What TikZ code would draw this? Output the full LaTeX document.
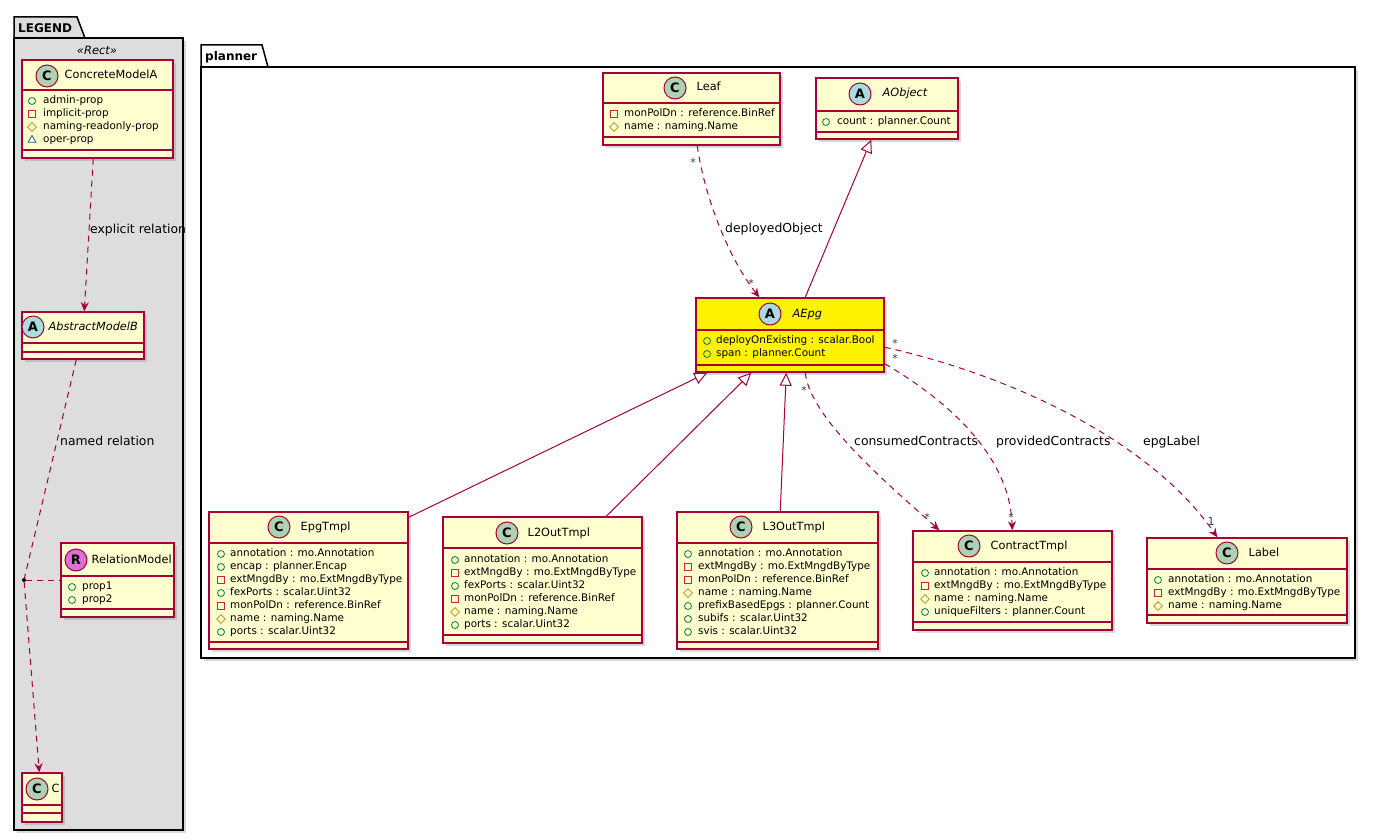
\documentclass[tikz,border=0pt]{standalone}
\usepackage{fontspec}
\setmainfont{DejaVu Sans}
\usepackage{tikz}
\usetikzlibrary{positioning,shapes.geometric,arrows.meta,fit,shadows}

\definecolor{umlred}{HTML}{A80036}
\definecolor{umlfill}{HTML}{FEFECE}
\definecolor{cgreen}{HTML}{ADD1B2}
\definecolor{ablue}{HTML}{A9DCDF}
\definecolor{rpink}{HTML}{DA70D6}
\definecolor{legendgray}{HTML}{DDDDDD}
\definecolor{pubgreen}{HTML}{038048}
\definecolor{prvred}{HTML}{C82930}
\definecolor{namgold}{HTML}{B38D22}
\definecolor{oprblue}{HTML}{1963A0}

\begin{document}
\begin{tikzpicture}[x=1pt,y=-1pt,
    cls/.style={draw=umlred,line width=1.5pt,fill=umlfill,inner sep=0pt,
        drop shadow={shadow xshift=3pt,shadow yshift=-3pt,opacity=0.3}},
    sepline/.style={draw=umlred,line width=1.5pt},
    circ/.style={circle,draw=umlred,line width=1pt,minimum size=22pt,inner sep=0pt,
        font=\fontsize{13}{13}\selectfont\bfseries},
    cname/.style={inner sep=0pt,font=\fontsize{11.3}{13}\selectfont,text height=8.5pt,text depth=2.5pt},
    aname/.style={cname,font=\fontsize{11.3}{13}\selectfont\itshape},
    attr/.style={anchor=west,inner sep=0pt,font=\fontsize{10.4}{12}\selectfont,text height=7.5pt,text depth=2pt},
    pub/.style={circle,draw=pubgreen,line width=0.8pt,minimum size=7pt,inner sep=0pt},
    prv/.style={rectangle,draw=prvred,line width=0.8pt,minimum size=6.5pt,inner sep=0pt},
    nam/.style={diamond,draw=namgold,line width=0.8pt,minimum size=9pt,inner sep=0pt},
    opr/.style={regular polygon,regular polygon sides=3,draw=oprblue,line width=0.8pt,minimum size=9pt,inner sep=0pt},
    dep/.style={draw=umlred,line width=1pt,dash pattern=on 6pt off 5pt,-{Stealth[length=9pt,width=8pt,inset=3pt]}},
    gen/.style={draw=umlred,line width=1pt,-{Triangle[length=13pt,width=12pt,fill=white]}},
    rel/.style={anchor=west,inner sep=0pt,font=\fontsize{12.4}{14}\selectfont,text height=9pt,text depth=2.5pt},
    mult/.style={inner sep=0pt,text=black!75,font=\fontsize{11}{12}\selectfont},
    pkg/.style={draw=black,line width=1.5pt},
    pkgname/.style={anchor=west,inner sep=0pt,font=\fontsize{12}{14}\selectfont\bfseries}]

\fill[white] (0,0) rectangle (1376,840);
\useasboundingbox (0,0) rectangle (1376,840);

% packages
\draw[pkg,fill=legendgray] (14,38) -- (14,17) -- (77,17) -- (85,38);
\node[pkg,fill=legendgray,inner sep=0pt,fit={(14,38) (183,830)},
    drop shadow={shadow xshift=3pt,shadow yshift=-3pt,opacity=0.3}] (legend) {};
\node[pkgname] (legendname) at (18,28) {LEGEND};
\node[inner sep=0pt,font=\fontsize{11.5}{13}\selectfont\itshape] (stereo) at (97,50) {«Rect»};

\draw[pkg,fill=white] (201,67) -- (201,45) -- (262,45) -- (268,67);
\node[pkg,fill=white,inner sep=0pt,fit={(201,67) (1355,658)},
    drop shadow={shadow xshift=3pt,shadow yshift=-3pt,opacity=0.3}] (planner) {};
\node[pkgname] (plannername) at (205,57) {planner};

% legend classes
\node[cls,fit={(22,60) (173,158)}] (concrete) {};
\draw[sepline] (22,90) -- (173,90) (22,150) -- (173,150);
\node[circ,fill=cgreen] (concretec) at (47,76) {C};
\node[cname,right=6pt of concretec] (concreten) {ConcreteModelA};
\foreach \kind/\what [count=\i] in {pub/admin-prop,prv/implicit-prop,nam/naming-readonly-prop,opr/oper-prop}
  {\node[\kind] (concretei\i) at (32,88+13*\i) {};
   \node[attr] (concretea\i) at (43,88+13*\i) {\what};}

\node[cls,fit={(22,312) (144,359)}] (absb) {};
\draw[sepline] (22,343) -- (144,343) (22,352) -- (144,352);
\node[circ,fill=ablue] (absbc) at (33,327) {A};
\node[aname,right=4pt of absbc] (absbn) {AbstractModelB};

\node[cls,fit={(61,543) (174,617)}] (relm) {};
\draw[sepline] (61,576) -- (174,576) (61,609) -- (174,609);
\node[circ,fill=rpink] (relmc) at (76,560) {R};
\node[cname,right=4pt of relmc] (relmn) {RelationModel};
\foreach \what [count=\i] in {prop1,prop2}
  {\node[pub] (relmi\i) at (72,574+13*\i) {};
   \node[attr] (relma\i) at (82,574+13*\i) {\what};}

\node[cls,fit={(22,773) (62,822)}] (cc) {};
\draw[sepline] (22,805) -- (62,805) (22,813) -- (62,813);
\node[circ,fill=cgreen] (ccc) at (37,789) {C};
\node[cname,right=3pt of ccc] (ccn) {C};

% planner classes
\node[cls,fit={(603,73) (780,145)}] (leaf) {};
\draw[sepline] (603,103) -- (780,103) (603,137) -- (780,137);
\node[circ,fill=cgreen] (leafc) at (675,88) {C};
\node[cname,right=10pt of leafc] (leafn) {Leaf};
\foreach \kind/\what [count=\i] in {prv/monPolDn : reference.BinRef,nam/name : naming.Name}
  {\node[\kind] (leafi\i) at (614,101+13*\i) {};
   \node[attr] (leafa\i) at (624,101+13*\i) {\what};}

\node[cls,fit={(816,78) (958,139)}] (aobj) {};
\draw[sepline] (816,111) -- (958,111) (816,132) -- (958,132);
\node[circ,fill=ablue] (aobjc) at (860,94) {A};
\node[aname,right=11pt of aobjc] (aobjn) {AObject};
\node[pub] (aobji1) at (826,122) {};
\node[attr] (aobja1) at (837,122) {count : planner.Count};

\node[cls,fill=yellow,fit={(696,298) (884,372)}] (aepg) {};
\draw[sepline] (696,330) -- (884,330) (696,365) -- (884,365);
\node[circ,fill=ablue] (aepgc) at (770,314) {A};
\node[aname,right=11pt of aepgc] (aepgn) {AEpg};
\foreach \what [count=\i] in {deployOnExisting : scalar.Bool,span : planner.Count}
  {\node[pub] (aepgi\i) at (707,328+13*\i) {};
   \node[attr] (aepga\i) at (716,328+13*\i) {\what};}

\node[cls,fit={(209,512) (408,649)}] (epg) {};
\draw[sepline] (209,543) -- (408,543) (209,642) -- (408,642);
\node[circ,fill=cgreen] (epgc) at (279,527) {C};
\node[cname,right=10pt of epgc] (epgn) {EpgTmpl};
\foreach \kind/\what [count=\i] in {pub/annotation : mo.Annotation,pub/encap : planner.Encap,
    prv/extMngdBy : mo.ExtMngdByType,pub/fexPorts : scalar.Uint32,prv/monPolDn : reference.BinRef,
    nam/name : naming.Name,pub/ports : scalar.Uint32}
  {\node[\kind] (epgi\i) at (221,541+13*\i) {};
   \node[attr] (epga\i) at (230,541+13*\i) {\what};}

\node[cls,fit={(443,517) (642,643)}] (l2out) {};
\draw[sepline] (443,548) -- (642,548) (443,635) -- (642,635);
\node[circ,fill=cgreen] (l2outc) at (507,533) {C};
\node[cname,right=9pt of l2outc] (l2outn) {L2OutTmpl};
\foreach \kind/\what [count=\i] in {pub/annotation : mo.Annotation,prv/extMngdBy : mo.ExtMngdByType,
    pub/fexPorts : scalar.Uint32,prv/monPolDn : reference.BinRef,nam/name : naming.Name,
    pub/ports : scalar.Uint32}
  {\node[\kind] (l2outi\i) at (455,547+13*\i) {};
   \node[attr] (l2outa\i) at (464,547+13*\i) {\what};}

\node[cls,fit={(677,512) (878,649)}] (l3out) {};
\draw[sepline] (677,543) -- (878,543) (677,642) -- (878,642);
\node[circ,fill=cgreen] (l3outc) at (741,527) {C};
\node[cname,right=10pt of l3outc] (l3outn) {L3OutTmpl};
\foreach \kind/\what [count=\i] in {pub/annotation : mo.Annotation,prv/extMngdBy : mo.ExtMngdByType,
    prv/monPolDn : reference.BinRef,nam/name : naming.Name,pub/prefixBasedEpgs : planner.Count,
    pub/subifs : scalar.Uint32,pub/svis : scalar.Uint32}
  {\node[\kind] (l3outi\i) at (688,541+13*\i) {};
   \node[attr] (l3outa\i) at (698,541+13*\i) {\what};}

\node[cls,fit={(913,531) (1112,630)}] (contract) {};
\draw[sepline] (913,562) -- (1112,562) (913,622) -- (1112,622);
\node[circ,fill=cgreen] (contractc) at (969,546) {C};
\node[cname,right=10pt of contractc] (contractn) {ContractTmpl};
\foreach \kind/\what [count=\i] in {pub/annotation : mo.Annotation,prv/extMngdBy : mo.ExtMngdByType,
    nam/name : naming.Name,pub/uniqueFilters : planner.Count}
  {\node[\kind] (contracti\i) at (925,560+13*\i) {};
   \node[attr] (contracta\i) at (934,560+13*\i) {\what};}

\node[cls,fit={(1147,538) (1347,623)}] (epglabel) {};
\draw[sepline] (1147,569) -- (1347,569) (1147,615) -- (1347,615);
\node[circ,fill=cgreen] (epglabelc) at (1227,553) {C};
\node[cname,right=10pt of epglabelc] (epglabeln) {Label};
\foreach \kind/\what [count=\i] in {pub/annotation : mo.Annotation,prv/extMngdBy : mo.ExtMngdByType,
    nam/name : naming.Name}
  {\node[\kind] (epglabeli\i) at (1158,567+13*\i) {};
   \node[attr] (epglabela\i) at (1168,567+13*\i) {\what};}

% legend relations
\draw[dep] ([xshift=72pt]concrete.south west) -- ([xshift=63pt]absb.north west);
\node[rel] (explicitlbl) at (90,230) {explicit relation};
\node[circle,fill=black,inner sep=0pt,minimum size=4pt] (rdot) at (24,580) {};
\draw[dep,-] ([xshift=55pt]absb.south west) -- (rdot);
\draw[dep,-] (rdot) -- (relm.west);
\draw[dep] (rdot) -- ([xshift=18pt]cc.north west);
\node[rel] (namedlbl) at (60,442) {named relation};

% planner relations
\draw[gen] ([xshift=110pt]aepg.north west) -- ([xshift=56pt]aobj.south west);
\draw[gen] ([yshift=-6pt]epg.north east) -- ([xshift=12pt]aepg.south west);
\draw[gen] ([xshift=164pt]l2out.north west) -- ([xshift=56pt]aepg.south west);
\draw[gen] ([xshift=104pt]l3out.north west) -- ([xshift=91pt]aepg.south west);
\draw[dep] ([xshift=95pt]leaf.south west) .. controls (705,200) and (730,260) .. ([xshift=64pt]aepg.north west);
\draw[dep] ([xshift=110pt]aepg.south west) .. controls (810,420) and (895,490) .. ([xshift=27pt]contract.north west);
\draw[dep] ([yshift=9pt]aepg.south east) .. controls (955,405) and (1010,460) .. ([xshift=100pt]contract.north west);
\draw[dep] ([yshift=-50pt]aepg.north east) .. controls (1010,375) and (1150,440) .. ([xshift=71pt]epglabel.north west);

\node[rel] (deployedlbl) at (725,229) {deployedObject};
\node[rel] (consumedlbl) at (854,442) {consumedContracts};
\node[rel] (providedlbl) at (996,442) {providedContracts};
\node[rel] (epglabellbl) at (1143,442) {epgLabel};

\node[mult] (m1) at (693,162) {*};
\node[mult] (m2) at (751,283) {*};
\node[mult] (m3) at (804,390) {*};
\node[mult] (m4) at (927,517) {*};
\node[mult] (m5) at (895,343) {*};
\node[mult] (m6) at (895,358) {*};
\node[mult] (m7) at (1011,517) {*};
\node[mult] (m8) at (1211,521) {1};
\end{tikzpicture}
\end{document}
